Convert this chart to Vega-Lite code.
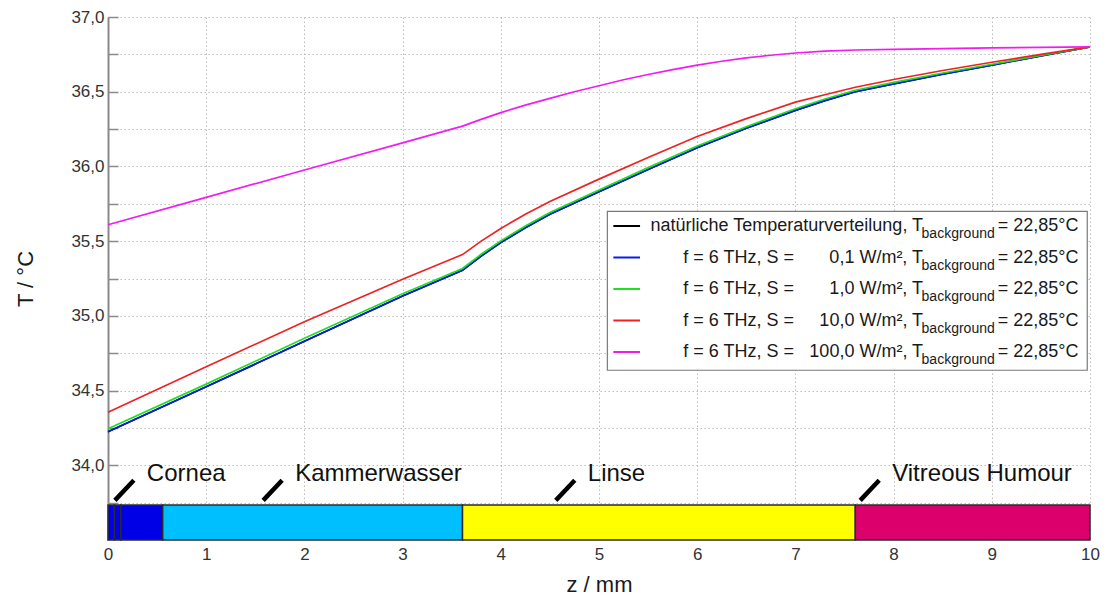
{
  "$schema": "https://vega.github.io/schema/vega-lite/v6.json",
  "width": 982,
  "height": 523,
  "autosize": {"type": "none"},
  "padding": {"left": 108, "top": 17, "right": 16, "bottom": 58},
  "background": "white",
  "config": {
    "font": "Liberation Sans",
    "view": {"stroke": null},
    "axis": {
      "labelFont": "Liberation Sans",
      "titleFont": "Liberation Sans",
      "labelFontSize": 17,
      "labelColor": "#333333",
      "titleFontSize": 22,
      "titleFontWeight": "normal",
      "titleColor": "#1a1a1a",
      "gridColor": "#bdbdbd",
      "gridDash": [1.5, 2.5],
      "gridWidth": 1,
      "labelFlush": false,
      "labelOverlap": false
    }
  },
  "datasets": {
    "profiles": [
      {"series": "nat", "z": 0, "T": 34.225}, {"series": "nat", "z": 1, "T": 34.525}, {"series": "nat", "z": 2, "T": 34.83},
      {"series": "nat", "z": 3, "T": 35.133}, {"series": "nat", "z": 3.61, "T": 35.305}, {"series": "nat", "z": 3.8, "T": 35.4},
      {"series": "nat", "z": 4, "T": 35.49}, {"series": "nat", "z": 4.25, "T": 35.59}, {"series": "nat", "z": 4.5, "T": 35.68},
      {"series": "nat", "z": 5, "T": 35.83}, {"series": "nat", "z": 5.5, "T": 35.98}, {"series": "nat", "z": 6, "T": 36.125},
      {"series": "nat", "z": 6.5, "T": 36.255}, {"series": "nat", "z": 7, "T": 36.375}, {"series": "nat", "z": 7.3, "T": 36.44},
      {"series": "nat", "z": 7.61, "T": 36.5}, {"series": "nat", "z": 8, "T": 36.553}, {"series": "nat", "z": 8.5, "T": 36.617},
      {"series": "nat", "z": 9, "T": 36.678}, {"series": "nat", "z": 9.5, "T": 36.74}, {"series": "nat", "z": 10, "T": 36.8},

      {"series": "S0.1", "z": 0, "T": 34.225}, {"series": "S0.1", "z": 1, "T": 34.525}, {"series": "S0.1", "z": 2, "T": 34.83},
      {"series": "S0.1", "z": 3, "T": 35.133}, {"series": "S0.1", "z": 3.61, "T": 35.305}, {"series": "S0.1", "z": 3.8, "T": 35.4},
      {"series": "S0.1", "z": 4, "T": 35.49}, {"series": "S0.1", "z": 4.25, "T": 35.59}, {"series": "S0.1", "z": 4.5, "T": 35.68},
      {"series": "S0.1", "z": 5, "T": 35.83}, {"series": "S0.1", "z": 5.5, "T": 35.98}, {"series": "S0.1", "z": 6, "T": 36.125},
      {"series": "S0.1", "z": 6.5, "T": 36.255}, {"series": "S0.1", "z": 7, "T": 36.375}, {"series": "S0.1", "z": 7.3, "T": 36.44},
      {"series": "S0.1", "z": 7.61, "T": 36.5}, {"series": "S0.1", "z": 8, "T": 36.553}, {"series": "S0.1", "z": 8.5, "T": 36.617},
      {"series": "S0.1", "z": 9, "T": 36.678}, {"series": "S0.1", "z": 9.5, "T": 36.74}, {"series": "S0.1", "z": 10, "T": 36.8},

      {"series": "S1", "z": 0, "T": 34.245}, {"series": "S1", "z": 1, "T": 34.543}, {"series": "S1", "z": 2, "T": 34.85},
      {"series": "S1", "z": 3, "T": 35.148}, {"series": "S1", "z": 3.61, "T": 35.317}, {"series": "S1", "z": 3.8, "T": 35.412},
      {"series": "S1", "z": 4, "T": 35.502}, {"series": "S1", "z": 4.25, "T": 35.602}, {"series": "S1", "z": 4.5, "T": 35.692},
      {"series": "S1", "z": 5, "T": 35.842}, {"series": "S1", "z": 5.5, "T": 35.992}, {"series": "S1", "z": 6, "T": 36.137},
      {"series": "S1", "z": 6.5, "T": 36.266}, {"series": "S1", "z": 7, "T": 36.386}, {"series": "S1", "z": 7.3, "T": 36.451},
      {"series": "S1", "z": 7.61, "T": 36.51}, {"series": "S1", "z": 8, "T": 36.562}, {"series": "S1", "z": 8.5, "T": 36.625},
      {"series": "S1", "z": 9, "T": 36.684}, {"series": "S1", "z": 9.5, "T": 36.743}, {"series": "S1", "z": 10, "T": 36.8},

      {"series": "S10", "z": 0, "T": 34.355}, {"series": "S10", "z": 1, "T": 34.66}, {"series": "S10", "z": 2, "T": 34.96},
      {"series": "S10", "z": 3, "T": 35.245}, {"series": "S10", "z": 3.61, "T": 35.41}, {"series": "S10", "z": 3.8, "T": 35.5},
      {"series": "S10", "z": 4, "T": 35.585}, {"series": "S10", "z": 4.25, "T": 35.68}, {"series": "S10", "z": 4.5, "T": 35.765},
      {"series": "S10", "z": 5, "T": 35.915}, {"series": "S10", "z": 5.5, "T": 36.06}, {"series": "S10", "z": 6, "T": 36.2},
      {"series": "S10", "z": 6.5, "T": 36.32}, {"series": "S10", "z": 7, "T": 36.43}, {"series": "S10", "z": 7.3, "T": 36.48},
      {"series": "S10", "z": 7.61, "T": 36.53}, {"series": "S10", "z": 8, "T": 36.582}, {"series": "S10", "z": 8.5, "T": 36.642},
      {"series": "S10", "z": 9, "T": 36.697}, {"series": "S10", "z": 9.5, "T": 36.75}, {"series": "S10", "z": 10, "T": 36.8},

      {"series": "S100", "z": 0, "T": 35.61}, {"series": "S100", "z": 1, "T": 35.793}, {"series": "S100", "z": 2, "T": 35.976},
      {"series": "S100", "z": 3, "T": 36.158}, {"series": "S100", "z": 3.61, "T": 36.27}, {"series": "S100", "z": 3.8, "T": 36.315},
      {"series": "S100", "z": 4, "T": 36.36}, {"series": "S100", "z": 4.25, "T": 36.41}, {"series": "S100", "z": 4.5, "T": 36.455},
      {"series": "S100", "z": 4.75, "T": 36.5}, {"series": "S100", "z": 5, "T": 36.54}, {"series": "S100", "z": 5.25, "T": 36.58},
      {"series": "S100", "z": 5.5, "T": 36.615}, {"series": "S100", "z": 5.75, "T": 36.648}, {"series": "S100", "z": 6, "T": 36.678},
      {"series": "S100", "z": 6.25, "T": 36.704}, {"series": "S100", "z": 6.5, "T": 36.726}, {"series": "S100", "z": 6.75, "T": 36.744},
      {"series": "S100", "z": 7, "T": 36.759}, {"series": "S100", "z": 7.3, "T": 36.771}, {"series": "S100", "z": 7.61, "T": 36.779},
      {"series": "S100", "z": 8, "T": 36.784}, {"series": "S100", "z": 8.5, "T": 36.789}, {"series": "S100", "z": 9, "T": 36.793},
      {"series": "S100", "z": 9.5, "T": 36.797}, {"series": "S100", "z": 10, "T": 36.8}
    ],
    "tissues": [
      {"segment": "Cornea", "z0": 0, "z1": 0.065},
      {"segment": "Cornea", "z0": 0.065, "z1": 0.13},
      {"segment": "Cornea", "z0": 0.13, "z1": 0.557},
      {"segment": "Kammerwasser", "z0": 0.557, "z1": 3.61},
      {"segment": "Linse", "z0": 3.61, "z1": 7.61},
      {"segment": "Vitreous Humour", "z0": 7.61, "z1": 10}
    ],
    "tissueLabels": [
      {"segment": "Cornea", "anchor": 0.07},
      {"segment": "Kammerwasser", "anchor": 1.58},
      {"segment": "Linse", "anchor": 4.56},
      {"segment": "Vitreous Humour", "anchor": 7.66}
    ],
    "legendRows": [
      {"series": "nat", "lead": "", "label": "natürliche Temperaturverteilung, T"},
      {"series": "S0.1", "lead": "f = 6 THz, S =", "label": "0,1 W/m², T"},
      {"series": "S1", "lead": "f = 6 THz, S =", "label": "1,0 W/m², T"},
      {"series": "S10", "lead": "f = 6 THz, S =", "label": "10,0 W/m², T"},
      {"series": "S100", "lead": "f = 6 THz, S =", "label": "100,0 W/m², T"}
    ]
  },
  "resolve": {"scale": {"y": "independent"}},
  "layer": [
    {
      "layer": [
        {
          "data": {"name": "tissues"},
          "mark": {"type": "rect", "stroke": "#2b2b2b", "strokeWidth": 1.5},
          "encoding": {
            "x": {"field": "z0", "type": "quantitative", "scale": {"domain": [0, 10], "nice": false, "zero": false},
              "axis": {
                "values": [0, 1, 2, 3, 4, 5, 6, 7, 8, 9, 10],
                "format": "d",
                "grid": true, "domain": false, "ticks": false,
                "labelPadding": 6, "title": "z / mm", "titlePadding": 12
              }},
            "x2": {"field": "z1"},
            "y": {"datum": 33.5, "type": "quantitative", "scale": {"domain": [33.5, 37], "nice": false, "zero": false},
              "axis": {
                "values": [33.75, 34, 34.25, 34.5, 34.75, 35, 35.25, 35.5, 35.75, 36, 36.25, 36.5, 36.75, 37],
                "grid": true,
                "domainColor": "#8a8a8a", "domainWidth": 2,
                "tickColor": "#8a8a8a", "tickWidth": 1.5, "tickSize": -10,
                "labelPadding": 14,
                "labelExpr": "datum.value % 0.5 === 0 ? replace(format(datum.value, '.1f'), '.', ',') : ''",
                "title": "T / °C", "titlePadding": 33
              }},
            "y2": {"datum": 33.735},
            "fill": {"field": "segment", "type": "nominal", "legend": null,
              "scale": {"domain": ["Cornea", "Kammerwasser", "Linse", "Vitreous Humour"],
                        "range": ["#0000e6", "#00bfff", "#ffff00", "#dc006c"]}}
          }
        },
        {
          "data": {"name": "profiles"},
          "mark": {"type": "line", "strokeWidth": 1.7, "interpolate": "linear"},
          "encoding": {
            "x": {"field": "z", "type": "quantitative"},
            "y": {"field": "T", "type": "quantitative"},
            "color": {"field": "series", "type": "nominal", "legend": null,
              "scale": {"domain": ["nat", "S0.1", "S1", "S10", "S100"],
                        "range": ["#000000", "#0a1ee6", "#1fe01f", "#ee2222", "#f01cf0"]}},
            "order": {"field": "series", "sort": "ascending"}
          }
        },
        {
          "data": {"values": [{}]},
          "mark": {"type": "rect", "fill": "white", "stroke": "#7a7a7a", "strokeWidth": 1.2},
          "encoding": {
            "x": {"datum": 5.085, "type": "quantitative"},
            "x2": {"datum": 9.972},
            "y": {"datum": 35.699, "type": "quantitative"},
            "y2": {"datum": 34.636}
          }
        },
        {
          "data": {"name": "tissueLabels"},
          "mark": {"type": "rule", "strokeWidth": 4.5, "color": "black", "x2Offset": 19},
          "encoding": {
            "x": {"field": "anchor", "type": "quantitative"},
            "x2": {"field": "anchor"},
            "y": {"datum": 33.765, "type": "quantitative"},
            "y2": {"datum": 33.9}
          }
        },
        {
          "data": {"name": "tissueLabels"},
          "mark": {"type": "text", "align": "left", "baseline": "alphabetic", "dx": 32, "fontSize": 24, "color": "#111111"},
          "encoding": {
            "x": {"field": "anchor", "type": "quantitative"},
            "y": {"datum": 33.892, "type": "quantitative"},
            "text": {"field": "segment"}
          }
        }
      ]
    },
    {
      "data": {"name": "legendRows"},
      "encoding": {
        "y": {"field": "series", "type": "ordinal", "axis": null,
          "scale": {"type": "point", "domain": ["nat", "S0.1", "S1", "S10", "S100"], "range": [209, 335], "padding": 0}}
      },
      "layer": [
        {
          "mark": {"type": "rule", "strokeWidth": 2},
          "encoding": {
            "x": {"datum": 5.146, "type": "quantitative"},
            "x2": {"datum": 5.418},
            "color": {"field": "series", "type": "nominal", "legend": null}
          }
        },
        {
          "mark": {"type": "text", "align": "left", "baseline": "alphabetic", "dy": 5, "fontSize": 18, "color": "#1a1a1a"},
          "encoding": {
            "x": {"datum": 5.858, "type": "quantitative"},
            "text": {"field": "lead"}
          }
        },
        {
          "mark": {"type": "text", "align": "right", "baseline": "alphabetic", "dy": 5, "fontSize": 18, "color": "#1a1a1a"},
          "encoding": {
            "x": {"datum": 8.3, "type": "quantitative"},
            "text": {"field": "label"}
          }
        },
        {
          "mark": {"type": "text", "align": "left", "baseline": "alphabetic", "dy": 12, "fontSize": 14, "color": "#1a1a1a"},
          "encoding": {
            "x": {"datum": 8.285, "type": "quantitative"},
            "text": {"value": "background"}
          }
        },
        {
          "mark": {"type": "text", "align": "left", "baseline": "alphabetic", "dy": 5, "fontSize": 18, "color": "#1a1a1a"},
          "encoding": {
            "x": {"datum": 9.06, "type": "quantitative"},
            "text": {"value": "= 22,85°C"}
          }
        }
      ]
    }
  ]
}
